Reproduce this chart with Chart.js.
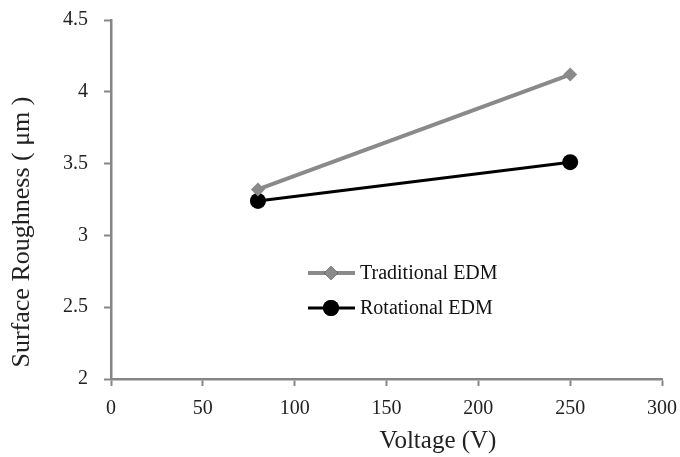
<!DOCTYPE html>
<html>
<head>
<meta charset="utf-8">
<script src="https://cdn.jsdelivr.net/npm/chart.js@4"></script>
<style>
  html, body { margin: 0; padding: 0; background: #fff; }
  #wrap { width: 680px; height: 457px; position: relative; }
</style>
</head>
<body>
<div id="wrap"><canvas id="roughChart"></canvas></div>
<script>
const voltage = [80, 250];
const traditional = [3.32, 4.12];
const rotational = [3.24, 3.51];
const seriesNames = ['Traditional EDM', 'Rotational EDM'];
const xTitle = 'Voltage (V)';
const yTitle = 'Surface Roughness ( \u03bcm )';

const axisGray = '#868686';
const serif = '"Liberation Serif", "Times New Roman", serif';

const toPoints = (ys) => voltage.map((v, i) => ({ x: v, y: ys[i] }));

// legend drawn inside the plot, axis titles placed off-center like the original sheet
const insideLegend = {
  id: 'insideLegend',
  afterDraw(chart) {
    const c = chart.ctx;
    const xs = chart.scales.x;
    c.save();
    c.font = '20px ' + serif;
    c.textBaseline = 'middle';
    const rows = [273, 308];
    chart.data.datasets.forEach((ds, i) => {
      const y = rows[i];
      c.strokeStyle = ds.borderColor;
      c.lineWidth = ds.borderWidth;
      c.beginPath();
      c.moveTo(308, y);
      c.lineTo(355, y);
      c.stroke();
      Chart.helpers.drawPoint(c, {
        pointStyle: ds.pointStyle,
        radius: ds.pointRadius,
        borderWidth: 0
      }, 331, y);
      c.fillStyle = ds.pointBackgroundColor;
      c.fill();
      c.fillStyle = '#111';
      c.textAlign = 'left';
      c.fillText(ds.label, 360, y + 1);
    });
    c.textAlign = 'center';
    c.fillStyle = '#222';
    c.font = '25px ' + serif;
    c.fillText(xTitle, 438, xs.bottom - 16);

    c.font = '26px ' + serif;
    c.translate(22, 232);
    c.rotate(-Math.PI / 2);
    c.fillText(yTitle, 0, 0);
    c.restore();
  }
};

const config = {
  type: 'line',
  data: {
    datasets: [
      {
        label: seriesNames[0],
        data: toPoints(traditional),
        borderColor: '#8a8a8a',
        backgroundColor: '#8a8a8a',
        pointBackgroundColor: '#8a8a8a',
        pointBorderWidth: 0,
        borderWidth: 4,
        pointStyle: 'rectRot',
        pointRadius: 7,
        tension: 0
      },
      {
        label: seriesNames[1],
        data: toPoints(rotational),
        borderColor: '#000000',
        backgroundColor: '#000000',
        pointBackgroundColor: '#000000',
        pointBorderWidth: 0,
        borderWidth: 3,
        pointStyle: 'circle',
        pointRadius: 8,
        tension: 0
      }
    ]
  },
  options: {
    responsive: true,
    maintainAspectRatio: false,
    animation: false,
    layout: { padding: { top: 20, right: 18, left: 0, bottom: 0 } },
    plugins: {
      legend: { display: false },
      tooltip: { enabled: false }
    },
    scales: {
      x: {
        type: 'linear',
        min: 0,
        max: 300,
        ticks: {
          stepSize: 50,
          color: '#222',
          font: { family: serif, size: 20 },
          padding: 11,
          maxRotation: 0
        },
        grid: {
          display: true,
          drawOnChartArea: false,
          drawTicks: true,
          tickLength: 7,
          tickColor: axisGray,
          tickWidth: 2
        },
        border: { color: axisGray, width: 2.5 },
        afterFit: (s) => {
          s.height = 78;
          s.paddingLeft = 0;
          s.paddingRight = 0;
        }
      },
      y: {
        min: 2,
        max: 4.5,
        ticks: {
          stepSize: 0.5,
          color: '#222',
          font: { family: serif, size: 20 },
          padding: 16,
          callback: (v) => String(v)
        },
        grid: {
          display: true,
          drawOnChartArea: false,
          drawTicks: true,
          tickLength: 7,
          tickColor: axisGray,
          tickWidth: 2
        },
        border: { color: axisGray, width: 2.5 },
        afterFit: (s) => {
          s.width = 111;
          s.paddingTop = 0;
          s.paddingBottom = 0;
        }
      }
    }
  },
  plugins: [insideLegend]
};

new Chart(document.getElementById('roughChart'), config);
</script>
</body>
</html>
